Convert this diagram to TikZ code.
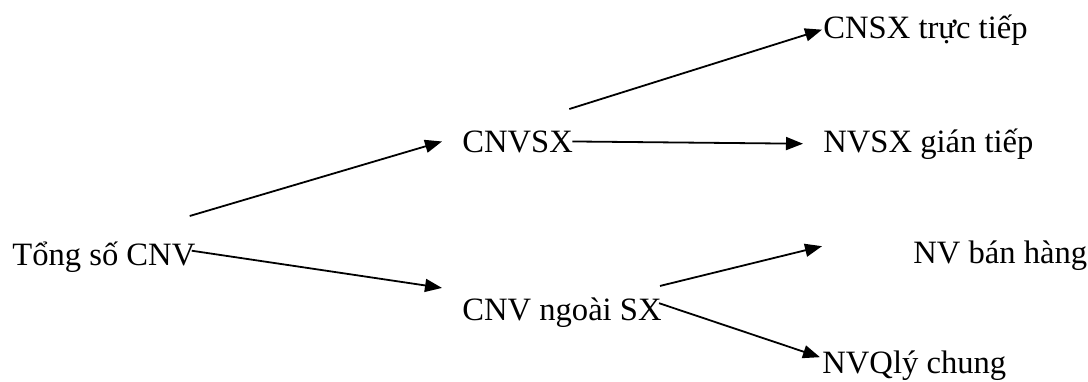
\documentclass[tikz,border=0pt]{standalone}
\usepackage{fontspec}
\setmainfont{Liberation Serif}
\usetikzlibrary{arrows.meta}

\tikzset{
  lbl/.style={anchor=base west, inner sep=0pt, font=\fontsize{16.3}{20}\selectfont},
  arr/.style={-{Triangle[length=8.5pt,width=6.5pt]}, line width=0.9pt}
}

\begin{document}
\begin{tikzpicture}[x=0.5pt, y=-0.5pt]
  \useasboundingbox (0,0) rectangle (1088,381);
  % labels, base west at their baselines
  \node[lbl] (tong) at (12,265) {Tổng số CNV};
  \node[lbl] (cnvsx) at (462,152) {CNVSX};
  \node[lbl] (ngoai) at (462,320) {CNV ngoài SX};
  \node[lbl] (cnsx) at (823,38) {CNSX trực tiếp};
  \node[lbl] (nvsx) at (823,152) {NVSX gián tiếp};
  \node[lbl] (banhang) at (913,263) {NV bán hàng};
  \node[lbl] (nvql) at (822,373) {NVQlý chung};
  % connectors
  \draw[arr] ([shift={(-6,-25)}]tong.north east) -- ([shift={(-20,0)}]cnvsx.west);
  \draw[arr] ([shift={(-4,-6)}]tong.east) -- ([shift={(-20,-9)}]ngoai.north west);
  \draw[arr] ([shift={(-4,-21)}]cnvsx.north east) -- ([shift={(-1,0)}]cnsx.west);
  \draw[arr] ([shift={(-1,0)}]cnvsx.east) -- ([shift={(-20,0)}]nvsx.west);
  \draw[arr] ([shift={(-2,-11)}]ngoai.north east) -- ([shift={(-91,-9)}]banhang.west);
  \draw[arr] ([shift={(-3,-9)}]ngoai.east) -- ([shift={(-2,-8)}]nvql.west);
\end{tikzpicture}
\end{document}
